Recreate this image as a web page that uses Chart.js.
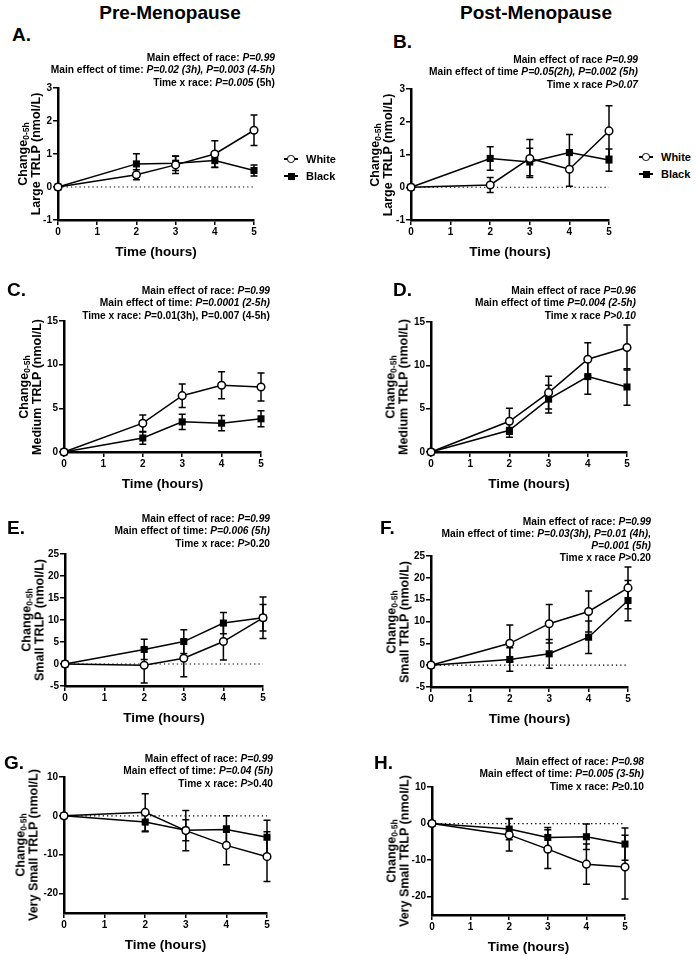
<!DOCTYPE html>
<html>
<head>
<meta charset="utf-8">
<script src="https://cdn.jsdelivr.net/npm/chart.js@4.4.1/dist/chart.umd.min.js"></script>
<style>
  body { margin: 0; background: #fff; font-family: "Liberation Sans", Arial, sans-serif; }
  #fig { position: relative; width: 696px; height: 956px; overflow: hidden; }
  .box { position: absolute; }
  .txt { position: absolute; font-weight: bold; color: #000; white-space: nowrap; }
  .head { font-size: 19px; line-height: 20px; transform: translate(-50%, -50%); }
  .letter { font-size: 19px; line-height: 20px; transform: translateY(-50%); }
  .note { font-size: 10.2px; line-height: 12.5px; text-align: right; }
  .ytitle { font-size: 12.5px; line-height: 12.5px; text-align: center; transform: translate(-50%, -50%) rotate(-90deg); }
  .ytitle sub { font-size: 8.5px; line-height: 0; vertical-align: -2px; }
  .leg { font-size: 11px; line-height: 12px; transform: translateY(-50%); }
  .ln { position: absolute; height: 1.5px; background: #000; }
  .mk { position: absolute; box-sizing: border-box; }
</style>
</head>
<body>
<div id="fig"></div>
<script>
const FONT = '"Liberation Sans", Arial, sans-serif';

// hours after the meal
const times = [0, 2, 3, 4, 5];
const xTicks = [0, 1, 2, 3, 4, 5];

// y tick labels per particle size
const ticksLarge = [-1, 0, 1, 2, 3];
const ticksMedium = [0, 5, 10, 15];
const ticksSmall = [-5, 0, 5, 10, 15, 20, 25];
const ticksVerySmall = [-20, -10, 0, 10];

// A. pre-menopause, large TRLP
const aWhite = [0, 0.37, 0.67, 1.0, 1.72];
const aWhiteErr = [0, 0.15, 0.26, 0.4, 0.46];
const aBlack = [0, 0.7, 0.72, 0.8, 0.5];
const aBlackErr = [0, 0.31, 0.22, 0.21, 0.17];
// B. post-menopause, large TRLP
const bWhite = [0, 0.07, 0.88, 0.55, 1.72];
const bWhiteErr = [0, 0.23, 0.58, 0.52, 0.77];
const bBlack = [0, 0.88, 0.77, 1.06, 0.83];
const bBlackErr = [0, 0.36, 0.42, 0.55, 0.34];
// C. pre-menopause, medium TRLP
const cWhite = [0, 3.3, 6.45, 7.65, 7.45];
const cWhiteErr = [0, 0.95, 1.35, 1.55, 1.6];
const cBlack = [0, 1.6, 3.45, 3.3, 3.8];
const cBlackErr = [0, 0.7, 0.88, 0.88, 0.92];
// D. post-menopause, medium TRLP
const dWhite = [0, 3.55, 6.85, 10.7, 12.05];
const dWhiteErr = [0, 1.5, 1.9, 1.9, 2.6];
const dBlack = [0, 2.5, 6.1, 8.7, 7.5];
const dBlackErr = [0, 0.8, 1.6, 2.05, 2.1];
// E. pre-menopause, small TRLP
const eWhite = [0, -0.3, 1.3, 5.1, 10.5];
const eWhiteErr = [0, 4.0, 4.2, 4.2, 4.7];
const eBlack = [0, 3.3, 5.1, 9.3, 10.5];
const eBlackErr = [0, 2.3, 2.7, 2.4, 3.0];
// F. post-menopause, small TRLP
const fWhite = [0, 5.0, 9.5, 12.3, 17.7];
const fWhiteErr = [0, 4.2, 4.4, 4.7, 4.8];
const fBlack = [0, 1.3, 2.6, 6.4, 14.8];
const fBlackErr = [0, 2.7, 3.3, 3.7, 4.6];
// G. pre-menopause, very small TRLP
const gWhite = [0, 0.9, -3.8, -7.6, -10.5];
const gWhiteErr = [0, 4.8, 5.2, 5.0, 6.4];
const gBlack = [0, -1.6, -3.7, -3.5, -5.5];
const gBlackErr = [0, 2.5, 2.7, 3.5, 4.4];
// H. post-menopause, very small TRLP
const hWhite = [0, -3.1, -7.0, -11.1, -11.9];
const hWhiteErr = [0, 4.4, 5.3, 5.5, 8.7];
const hBlack = [0, -1.5, -3.8, -3.6, -5.6];
const hBlackErr = [0, 2.9, 2.7, 3.5, 4.4];

// statistics text above each panel
const aNotes = ['Main effect of race: <i>P=0.99</i>', 'Main effect of time: <i>P=0.02 (3h), P=0.003 (4-5h)</i>', 'Time x race: <i>P=0.005</i> (5h)'];
const bNotes = ['Main effect of race <i>P=0.99</i>', 'Main effect of time <i>P=0.05(2h), P=0.002 (5h)</i>', 'Time x race <i>P&gt;0.07</i>'];
const cNotes = ['Main effect of race: <i>P=0.99</i>', 'Main effect of time: <i>P=0.0001 (2-5h)</i>', 'Time x race: <i>P</i>=0.01(3h), P=0.007 (4-5h)'];
const dNotes = ['Main effect of race <i>P=0.96</i>', 'Main effect of time <i>P=0.004 (2-5h)</i>', 'Time x race <i>P&gt;0.10</i>'];
const eNotes = ['Main effect of race: <i>P=0.99</i>', 'Main effect of time: <i>P=0.006 (5h)</i>', 'Time x race: <i>P</i>&gt;0.20'];
const fNotes = ['Main effect of race: <i>P=0.99</i>', 'Main effect of time: <i>P=0.03(3h), P=0.01 (4h),</i>', '<i>P=0.001 (5h)</i>', 'Time x race <i>P</i>&gt;0.20'];
const gNotes = ['Main effect of race: <i>P=0.99</i>', 'Main effect of time: <i>P=0.04 (5h)</i>', 'Time x race: <i>P</i>&gt;0.40'];
const hNotes = ['Main effect of race: <i>P=0.98</i>', 'Main effect of time: <i>P=0.005 (3-5h)</i>', 'Time x race: <i>P</i>&ge;0.10'];

const YW = 40, PT = 10, PR = 12, XH = 40, CAP = 3.5;
const fig = document.getElementById('fig');

// error bars and dotted zero line, drawn under the series
const errorBars = {
    id: 'errorBars',
    beforeDatasetsDraw(chart) {
        const { ctx, scales: { x, y } } = chart;
        ctx.save();
        if (y.min < 0) {
            ctx.strokeStyle = '#000';
            ctx.lineWidth = 1.2;
            ctx.setLineDash([1.3, 3]);
            ctx.beginPath();
            ctx.moveTo(x.getPixelForValue(0), y.getPixelForValue(0));
            ctx.lineTo(x.getPixelForValue(5), y.getPixelForValue(0));
            ctx.stroke();
            ctx.setLineDash([]);
        }
        ctx.strokeStyle = '#000';
        ctx.lineWidth = 1.5;
        chart.data.datasets.forEach(ds => {
            ds.data.forEach((pt, i) => {
                const e = ds.errors[i];
                if (!e) return;
                const px = x.getPixelForValue(pt.x);
                const hi = y.getPixelForValue(pt.y + e);
                const lo = y.getPixelForValue(pt.y - e);
                ctx.beginPath();
                ctx.moveTo(px, hi); ctx.lineTo(px, lo);
                ctx.moveTo(px - CAP, hi); ctx.lineTo(px + CAP, hi);
                ctx.moveTo(px - CAP, lo); ctx.lineTo(px + CAP, lo);
                ctx.stroke();
            });
        });
        ctx.restore();
    }
};

const addText = (cls, html, left, top, extra) => {
    const d = document.createElement('div');
    d.className = 'txt ' + cls;
    d.innerHTML = html;
    d.style.left = left + 'px';
    d.style.top = top + 'px';
    if (extra) Object.assign(d.style, extra);
    fig.appendChild(d);
    return d;
};

const toPts = vals => vals.map((v, i) => ({ x: times[i], y: v }));

const makePanel = (p) => {
    const [pl, pt, pr, pb] = p.plot;
    const w = pr - pl + YW + PR;
    const h = pb - pt + PT + XH;
    const div = document.createElement('div');
    div.className = 'box';
    div.style.left = (pl - YW) + 'px';
    div.style.top = (pt - PT) + 'px';
    const cv = document.createElement('canvas');
    cv.width = w;
    cv.height = h;
    div.appendChild(cv);
    fig.appendChild(div);

    const tickFont = { size: 10, weight: 'bold', family: FONT };
    new Chart(cv, {
        type: 'line',
        data: {
            datasets: [{
                label: 'White',
                data: toPts(p.white),
                errors: p.whiteErr,
                borderColor: '#000',
                borderWidth: 1.5,
                pointStyle: 'circle',
                pointRadius: 3.8,
                pointBackgroundColor: '#fff',
                pointBorderColor: '#000',
                pointBorderWidth: 1.5,
                clip: false
            }, {
                label: 'Black',
                data: toPts(p.black),
                errors: p.blackErr,
                borderColor: '#000',
                borderWidth: 1.5,
                pointStyle: 'rect',
                pointRadius: 5,
                pointBackgroundColor: '#000',
                pointBorderColor: '#000',
                pointBorderWidth: 0,
                clip: false
            }]
        },
        options: {
            responsive: false,
            animation: false,
            layout: { padding: { top: PT, right: PR, left: 0, bottom: 0 } },
            plugins: { legend: { display: false }, tooltip: { enabled: false } },
            scales: {
                x: {
                    type: 'linear',
                    min: 0,
                    max: 5,
                    afterBuildTicks: s => { s.ticks = xTicks.map(v => ({ value: v })); },
                    afterFit: s => { s.height = XH; },
                    border: { display: true, color: '#000', width: 2.5 },
                    grid: { drawOnChartArea: false, drawTicks: true, tickLength: 5, color: '#000', lineWidth: 1.5 },
                    ticks: { color: '#000', font: tickFont, padding: 1, maxRotation: 0, autoSkip: false },
                    title: { display: true, text: 'Time (hours)', color: '#000', font: { size: 13.5, weight: 'bold', family: FONT }, padding: 0 }
                },
                y: {
                    min: p.range[0],
                    max: p.range[1],
                    afterBuildTicks: s => { s.ticks = p.ticks.map(v => ({ value: v })); },
                    afterFit: s => { s.width = YW; },
                    border: { display: true, color: '#000', width: 2.5 },
                    grid: { drawOnChartArea: false, drawTicks: true, tickLength: 5, color: '#000', lineWidth: 1.5 },
                    ticks: { color: '#000', font: tickFont, padding: 1, autoSkip: false }
                }
            }
        },
        plugins: [errorBars]
    });

    // panel letter and statistics
    addText('letter', p.letter, p.letterPos[0], p.letterPos[1]);
    const n = addText('note', p.notes.join('<br>'), 0, p.notePos[1] - 6.25, { right: (696 - p.notePos[0]) + 'px', left: 'auto' });
    if (p.noteGap) n.style.lineHeight = p.noteGap + 'px';

    // two-line y title with subscript
    addText('ytitle', 'Change<sub>0-5h</sub><br>' + p.ytitle, pl - p.yTitleOff, (pt + pb) / 2);
};

const addLegend = (x, y) => {
    const rows = [['White', true], ['Black', false]];
    rows.forEach(([name, open], i) => {
        const cy = y + i * 17;
        const ln = document.createElement('div');
        ln.className = 'ln';
        Object.assign(ln.style, { left: x + 'px', top: (cy - 0.75) + 'px', width: '14px' });
        fig.appendChild(ln);
        const mk = document.createElement('div');
        mk.className = 'mk';
        if (open) {
            Object.assign(mk.style, { left: (x + 3.3) + 'px', top: (cy - 3.7) + 'px', width: '7.4px', height: '7.4px', borderRadius: '50%', border: '1.5px solid #000', background: '#fff' });
        } else {
            Object.assign(mk.style, { left: (x + 3.5) + 'px', top: (cy - 3.5) + 'px', width: '7px', height: '7px', background: '#000' });
        }
        fig.appendChild(mk);
        addText('leg', name, x + 22, cy);
    });
};

addText('head', 'Pre-Menopause', 170, 13);
addText('head', 'Post-Menopause', 536, 13);

const panels = [
    { letter: 'A.', letterPos: [12, 35], plot: [58, 88, 254, 220], range: [-1, 3], ticks: ticksLarge, white: aWhite, whiteErr: aWhiteErr, black: aBlack, blackErr: aBlackErr, notes: aNotes, notePos: [275, 58], ytitle: 'Large TRLP (nmol/L)', yTitleOff: 29 },
    { letter: 'B.', letterPos: [393, 42], plot: [411, 89, 609, 220], range: [-1, 3], ticks: ticksLarge, white: bWhite, whiteErr: bWhiteErr, black: bBlack, blackErr: bBlackErr, notes: bNotes, notePos: [638, 60], ytitle: 'Large TRLP (nmol/L)', yTitleOff: 30 },
    { letter: 'C.', letterPos: [7, 290], plot: [64, 321, 261, 452], range: [0, 15], ticks: ticksMedium, white: cWhite, whiteErr: cWhiteErr, black: cBlack, blackErr: cBlackErr, notes: cNotes, notePos: [270, 291], ytitle: 'Medium TRLP (nmol/L)', yTitleOff: 34 },
    { letter: 'D.', letterPos: [393, 290], plot: [431, 322, 627, 452], range: [0, 15], ticks: ticksMedium, white: dWhite, whiteErr: dWhiteErr, black: dBlack, blackErr: dBlackErr, notes: dNotes, notePos: [636, 291], ytitle: 'Medium TRLP (nmol/L)', yTitleOff: 34 },
    { letter: 'E.', letterPos: [7, 528], plot: [65, 554, 263, 686], range: [-5, 25], ticks: ticksSmall, white: eWhite, whiteErr: eWhiteErr, black: eBlack, blackErr: eBlackErr, notes: eNotes, notePos: [270, 519], ytitle: 'Small TRLP (nmol/L)', yTitleOff: 32 },
    { letter: 'F.', letterPos: [380, 528], plot: [431, 556, 628, 687], range: [-5, 25], ticks: ticksSmall, white: fWhite, whiteErr: fWhiteErr, black: fBlack, blackErr: fBlackErr, notes: fNotes, notePos: [651, 522], noteGap: 12, ytitle: 'Small TRLP (nmol/L)', yTitleOff: 33 },
    { letter: 'G.', letterPos: [4, 763], plot: [64, 777, 267, 913], range: [-25, 10], ticks: ticksVerySmall, white: gWhite, whiteErr: gWhiteErr, black: gBlack, blackErr: gBlackErr, notes: gNotes, notePos: [273, 759], ytitle: 'Very Small TRLP (nmol/L)', yTitleOff: 37 },
    { letter: 'H.', letterPos: [374, 763], plot: [432, 787, 625, 915], range: [-25, 10], ticks: ticksVerySmall, white: hWhite, whiteErr: hWhiteErr, black: hBlack, blackErr: hBlackErr, notes: hNotes, notePos: [644, 762], ytitle: 'Very Small TRLP (nmol/L)', yTitleOff: 34 }
];

panels.forEach(makePanel);
addLegend(284, 159);
addLegend(639, 157);
</script>
</body>
</html>
